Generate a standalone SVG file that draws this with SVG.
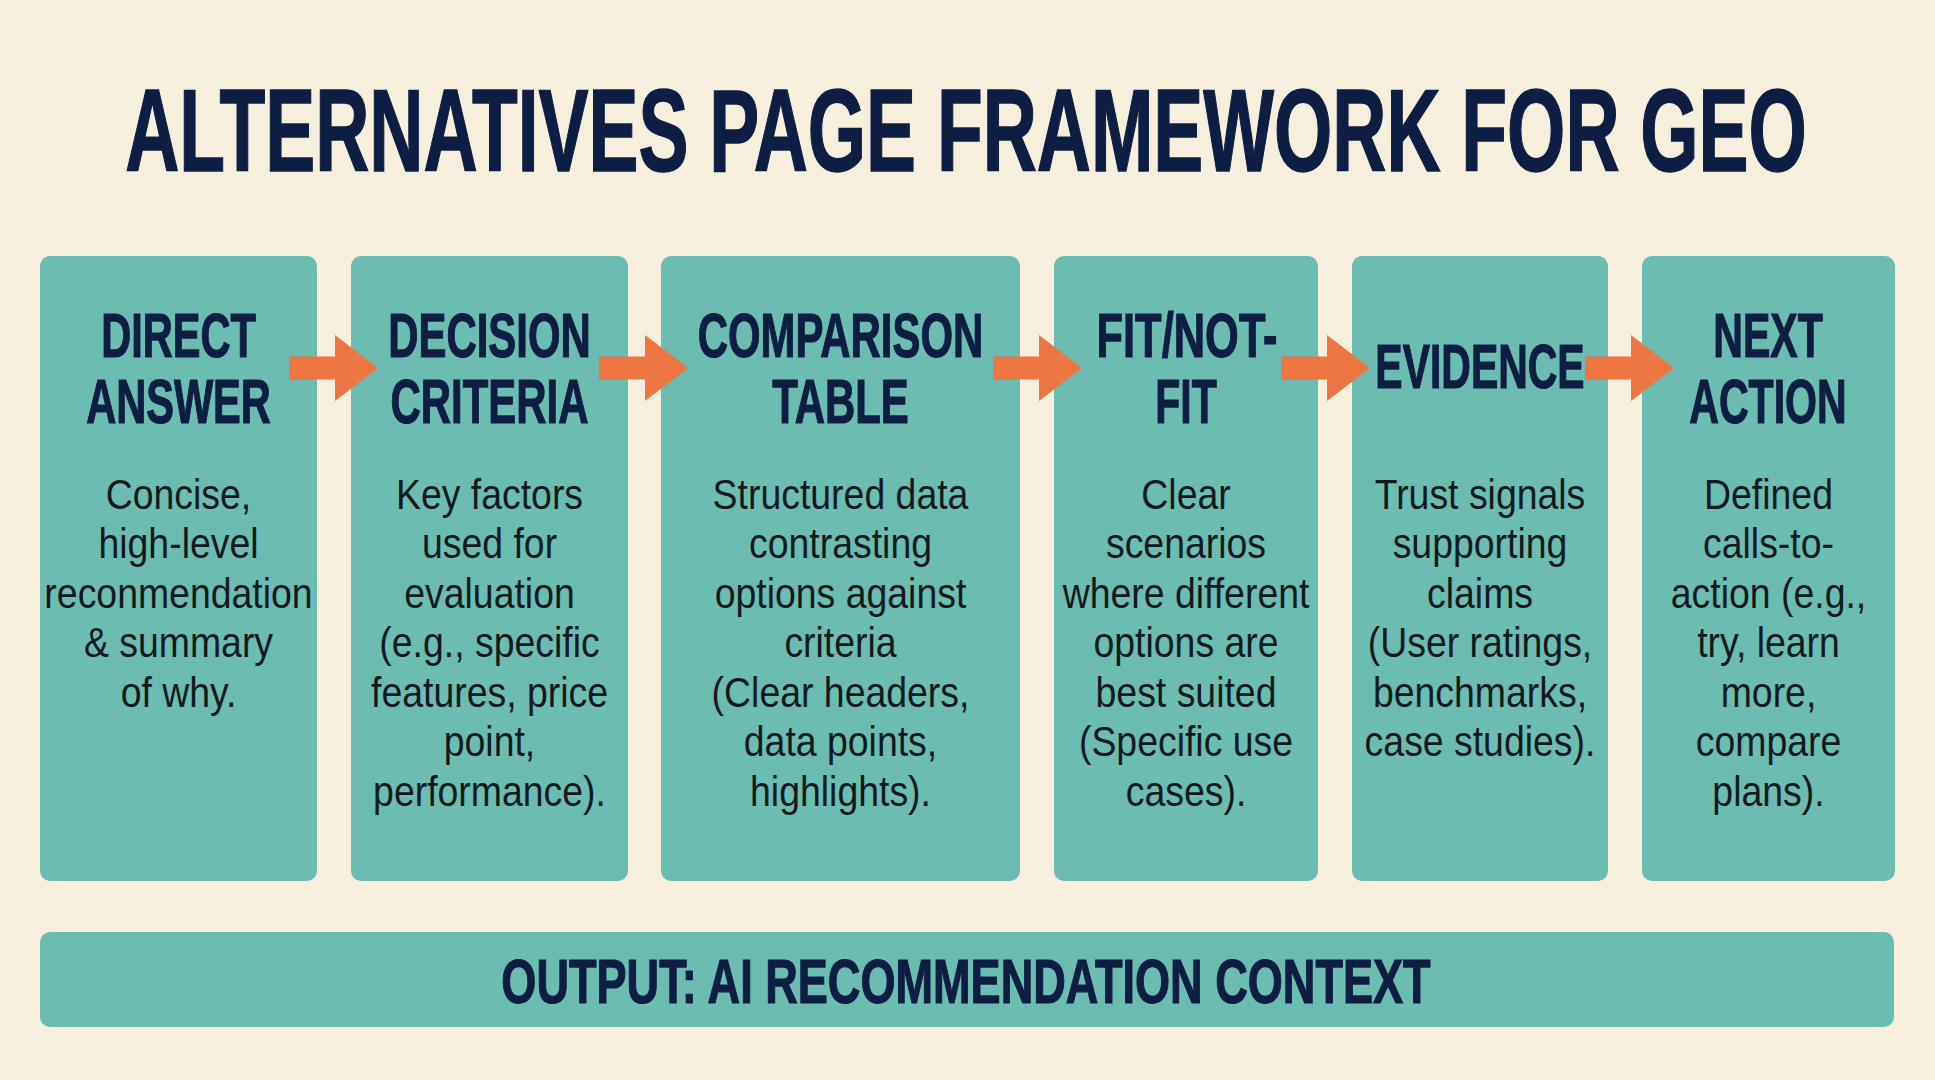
<svg xmlns="http://www.w3.org/2000/svg" width="1935" height="1080" viewBox="0 0 1935 1080">
<defs>
<style>
.bg{fill:#f7efdd}
.box{fill:#6cbcb2}
.ttl{font-family:"Liberation Sans",Arial,sans-serif;font-weight:bold;font-size:116px;fill:#0e1d42;stroke:#0e1d42;stroke-width:1.5;text-anchor:middle}
.hd{font-family:"Liberation Sans",Arial,sans-serif;font-weight:bold;font-size:63px;fill:#0e1d42;stroke:#0e1d42;stroke-width:1.2;text-anchor:middle}
.bd{font-family:"Liberation Sans",Arial,sans-serif;font-size:43px;fill:#121a1e;text-anchor:middle}
.arr{fill:#ee7643}
</style>
<path id="arrow" d="M0,-11.5 H46 V-33 L89,0 L46,33 V11.5 H0 Z"/>
</defs>
<rect class="bg" x="0" y="0" width="1935" height="1080"/>
<g id="title" transform="translate(966 0) scale(0.646 1)">
<text class="ttl" x="0" y="171">ALTERNATIVES PAGE FRAMEWORK FOR GEO</text>
</g>

<g id="node-direct-answer">
<rect class="box" x="40" y="256" width="277" height="625" rx="10"/>
<g transform="translate(178.5 0) scale(0.66 1)">
<text class="hd" x="0" y="357">DIRECT</text>
<text class="hd" x="0" y="423">ANSWER</text>
</g>
<g transform="translate(178.5 0) scale(0.87 1)">
<text class="bd" x="0" y="509">Concise,</text>
<text class="bd" x="0" y="558">high-level</text>
<text class="bd" x="0" y="608">reconmendation</text>
<text class="bd" x="0" y="657">&amp; summary</text>
<text class="bd" x="0" y="707">of why.</text>
</g>
</g>

<g id="node-decision-criteria">
<rect class="box" x="351" y="256" width="277" height="625" rx="10"/>
<g transform="translate(489.5 0) scale(0.665 1)">
<text class="hd" x="0" y="357">DECISION</text>
<text class="hd" x="0" y="423">CRITERIA</text>
</g>
<g transform="translate(489.5 0) scale(0.87 1)">
<text class="bd" x="0" y="509">Key factors</text>
<text class="bd" x="0" y="558">used for</text>
<text class="bd" x="0" y="608">evaluation</text>
<text class="bd" x="0" y="657">(e.g., specific</text>
<text class="bd" x="0" y="707">features, price</text>
<text class="bd" x="0" y="756">point,</text>
<text class="bd" x="0" y="806">performance).</text>
</g>
</g>

<g id="node-comparison-table">
<rect class="box" x="661" y="256" width="359" height="625" rx="10"/>
<g transform="translate(840.5 0) scale(0.665 1)">
<text class="hd" x="0" y="357">COMPARISON</text>
<text class="hd" x="0" y="423">TABLE</text>
</g>
<g transform="translate(840.5 0) scale(0.87 1)">
<text class="bd" x="0" y="509">Structured data</text>
<text class="bd" x="0" y="558">contrasting</text>
<text class="bd" x="0" y="608">options against</text>
<text class="bd" x="0" y="657">criteria</text>
<text class="bd" x="0" y="707">(Clear headers,</text>
<text class="bd" x="0" y="756">data points,</text>
<text class="bd" x="0" y="806">highlights).</text>
</g>
</g>

<g id="node-fit-not-fit">
<rect class="box" x="1054" y="256" width="264" height="625" rx="10"/>
<g transform="translate(1187 0) scale(0.69 1)">
<text class="hd" x="0" y="357">FIT/NOT-</text>
</g>
<g transform="translate(1186 0) scale(0.65 1)">
<text class="hd" x="0" y="423">FIT</text>
</g>
<g transform="translate(1186 0) scale(0.87 1)">
<text class="bd" x="0" y="509">Clear</text>
<text class="bd" x="0" y="558">scenarios</text>
<text class="bd" x="0" y="608">where different</text>
<text class="bd" x="0" y="657">options are</text>
<text class="bd" x="0" y="707">best suited</text>
<text class="bd" x="0" y="756">(Specific use</text>
<text class="bd" x="0" y="806">cases).</text>
</g>
</g>

<g id="node-evidence">
<rect class="box" x="1352" y="256" width="256" height="625" rx="10"/>
<g transform="translate(1480 0) scale(0.65 1)">
<text class="hd" x="0" y="388">EVIDENCE</text>
</g>
<g transform="translate(1480 0) scale(0.87 1)">
<text class="bd" x="0" y="509">Trust signals</text>
<text class="bd" x="0" y="558">supporting</text>
<text class="bd" x="0" y="608">claims</text>
<text class="bd" x="0" y="657">(User ratings,</text>
<text class="bd" x="0" y="707">benchmarks,</text>
<text class="bd" x="0" y="756">case studies).</text>
</g>
</g>

<g id="node-next-action">
<rect class="box" x="1642" y="256" width="253" height="625" rx="10"/>
<g transform="translate(1768 0) scale(0.652 1)">
<text class="hd" x="0" y="357">NEXT</text>
<text class="hd" x="0" y="423">ACTION</text>
</g>
<g transform="translate(1768.5 0) scale(0.87 1)">
<text class="bd" x="0" y="509">Defined</text>
<text class="bd" x="0" y="558">calls-to-</text>
<text class="bd" x="0" y="608">action (e.g.,</text>
<text class="bd" x="0" y="657">try, learn</text>
<text class="bd" x="0" y="707">more,</text>
<text class="bd" x="0" y="756">compare</text>
<text class="bd" x="0" y="806">plans).</text>
</g>
</g>

<g id="node-output">
<rect class="box" x="40" y="932" width="1854" height="95" rx="10"/>
<g transform="translate(966 0) scale(0.716 1)">
<text class="hd" x="0" y="1003">OUTPUT: AI RECOMMENDATION CONTEXT</text>
</g>
</g>

<g id="connectors" class="arr">
<use href="#arrow" transform="translate(289 368)"/>
<use href="#arrow" transform="translate(599 368)"/>
<use href="#arrow" transform="translate(993 368)"/>
<use href="#arrow" transform="translate(1281 368)"/>
<use href="#arrow" transform="translate(1585 368)"/>
</g>
</svg>
